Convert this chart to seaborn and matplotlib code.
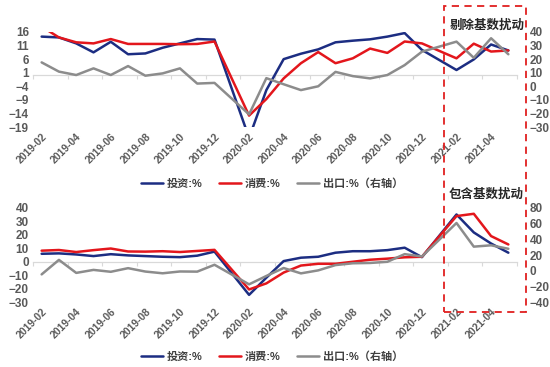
import numpy as np
import pandas as pd
import matplotlib.pyplot as plt
import seaborn as sns
from matplotlib.lines import Line2D
from matplotlib.patches import Rectangle

# months shown (Jan is merged into Feb, so no Jan points)
months = ['2019-02', '2019-03', '2019-04', '2019-05', '2019-06', '2019-07',
          '2019-08', '2019-09', '2019-10', '2019-11', '2019-12',
          '2020-02', '2020-03', '2020-04', '2020-05', '2020-06', '2020-07',
          '2020-08', '2020-09', '2020-10', '2020-11', '2020-12',
          '2021-02', '2021-03', '2021-04', '2021-05']

# top panel: 剔除基数扰动
inv_top = [14.3, 14.0, 11.8, 8.5, 12.4, 7.8, 8.1, 10.2, 11.8, 13.4, 13.2,
           -23.0, -5.4, 6.0, 8.0, 9.6, 12.2, 12.8, 13.3, 14.3, 15.6, 9.4,
           2.0, 5.9, 11.4, 9.2]
cons_top = [18.0, 14.0, 12.2, 11.8, 13.4, 11.6, 11.6, 11.6, 11.5, 11.6, 12.5,
            -14.8, -8.7, -1.1, 4.5, 8.6, 4.5, 6.3, 9.9, 8.3, 12.5, 11.8,
            6.3, 11.7, 8.8, 9.2]
exp_top = [17.6, 10.8, 8.3, 13.2, 8.3, 14.9, 7.8, 9.5, 13.2, 2.0, 2.5,
           -20.7, 6.0, 1.5, -2.8, 0.0, 10.6, 7.5, 5.8, 8.3, 15.6, 25.5,
           32.9, 21.0, 35.4, 23.6]

# bottom panel: 包含基数扰动
inv_bot = [5.9, 6.2, 5.4, 4.2, 5.6, 4.7, 4.2, 3.7, 3.4, 4.5, 7.5,
           -24.5, -11.8, 0.5, 3.0, 3.7, 6.7, 7.8, 7.8, 8.6, 10.4, 3.4,
           35.0, 21.7, 13.5, 6.7]
cons_bot = [8.2, 8.7, 7.2, 8.6, 9.8, 7.6, 7.5, 7.8, 7.2, 8.0, 8.8,
            -20.5, -16.0, -8.0, -2.8, -1.5, -1.5, 0.0, 1.5, 2.3, 3.3, 3.7,
            33.8, 35.5, 19.0, 12.8]
exp_bot = [-4.6, 13.8, -2.7, 1.1, -1.3, 3.3, -1.0, -3.2, -0.9, -1.1, 7.6,
           -17.2, -6.6, 3.5, -3.3, 0.5, 7.2, 9.5, 9.9, 11.4, 21.1, 18.1,
           60.6, 30.6, 32.3, 27.9]

tick_labels = ['2019-02', '2019-04', '2019-06', '2019-08', '2019-10', '2019-12',
               '2020-02', '2020-04', '2020-06', '2020-08', '2020-10', '2020-12',
               '2021-02', '2021-04']

series_names = ['投资:%', '消费:%', '出口:%（右轴）']

BLUE = '#1C2D82'
RED = '#E3161C'
GRAY = '#8C8C8C'
TXT = '#595959'


def month_pos(labels):
    d = pd.to_datetime(labels, format='%Y-%m')
    return (d.year - 2019) * 12 + d.month - 2


sns.set_style('white')
plt.rcParams['font.family'] = ['Liberation Sans', 'Noto Sans CJK SC', 'DejaVu Sans']

fig = plt.figure(figsize=(5.5, 3.67), dpi=100)
W, H = 550, 367


def add_ax(l, t, r, b):
    return fig.add_axes([l / W, 1 - b / H, (r - l) / W, (b - t) / H])


def draw_panel(ax, inv, cons, exp, ylim_l, yticks_l, ylim_r, yticks_r):
    df = pd.DataFrame({'x': month_pos(months), 'inv': inv, 'cons': cons, 'exp': exp})
    sns.lineplot(data=df, x='x', y='inv', ax=ax, color=BLUE, lw=1.8)
    sns.lineplot(data=df, x='x', y='cons', ax=ax, color=RED, lw=1.8)
    ax2 = ax.twinx()
    sns.lineplot(data=df, x='x', y='exp', ax=ax2, color=GRAY, lw=1.8)

    ax.set_xlim(-0.5, 27.5)
    ax.set_ylim(*ylim_l)
    ax.set_yticks(yticks_l)
    ax2.set_ylim(*ylim_r)
    ax2.set_yticks(yticks_r)
    ax.set_xticks(month_pos(tick_labels))
    ax.set_xticklabels(tick_labels, rotation=45, ha='right', rotation_mode='anchor')
    for a in (ax, ax2):
        a.set_xlabel('')
        a.set_ylabel('')
        for s in a.spines.values():
            s.set_visible(False)
    ax.tick_params(axis='x', length=0, pad=3, labelsize=7.5, labelcolor=TXT)
    ax.tick_params(axis='y', length=0, pad=3, labelsize=8.5, labelcolor=TXT)
    ax2.tick_params(axis='y', length=0, pad=9, labelsize=8.5, labelcolor=TXT)
    for lab in ax.get_xticklabels() + ax.get_yticklabels() + ax2.get_yticklabels():
        lab.set_fontweight('bold')

    # category axis crossing at 0, tick marks between month groups
    zero_frac = (0 - ylim_l[0]) / (ylim_l[1] - ylim_l[0])
    sec = ax.secondary_xaxis(zero_frac)
    sec.set_alignment('bottom')
    sec.set_xticks(np.arange(-0.5, 28, 2))
    sec.tick_params(axis='x', length=3, width=0.8, color='#D9D9D9',
                    labelbottom=False, labeltop=False)
    sec.spines['bottom'].set_color('#D9D9D9')
    sec.spines['bottom'].set_linewidth(0.9)


ax_top = add_ax(33, 32, 517, 127)
draw_panel(ax_top, inv_top, cons_top, exp_top,
           (-19, 16), np.arange(-19, 17, 5), (-30, 40), np.arange(-30, 41, 10))

ax_bot = add_ax(33, 207.7, 517, 302.3)
draw_panel(ax_bot, inv_bot, cons_bot, exp_bot,
           (-30, 40), np.arange(-30, 41, 10), (-40, 80), np.arange(-40, 81, 20))

handles = [Line2D([], [], color=c, lw=1.8) for c in (BLUE, RED, GRAY)]
for ycen in (184, 357):
    fig.legend(handles, series_names, loc='center', bbox_to_anchor=(272 / W, 1 - ycen / H),
               ncol=3, frameon=False, prop={'size': 8, 'weight': 'bold'},
               labelcolor='#404040', handlelength=2.0, handletextpad=0.3,
               columnspacing=1.5)

fig.text(450 / W, 1 - 25.5 / H, '剔除基数扰动', fontsize=9, fontweight='bold',
         color='#262626', ha='left', va='center')
fig.text(449 / W, 1 - 195 / H, '包含基数扰动', fontsize=9, fontweight='bold',
         color='#262626', ha='left', va='center')

fig.patches.append(Rectangle((444 / W, 1 - 312 / H), (526 - 444) / W, (312 - 6) / H,
                             transform=fig.transFigure, fill=False, edgecolor='#E02020',
                             lw=1.3, linestyle=(0, (4, 3))))

fig.savefig('out.png', dpi=100)
